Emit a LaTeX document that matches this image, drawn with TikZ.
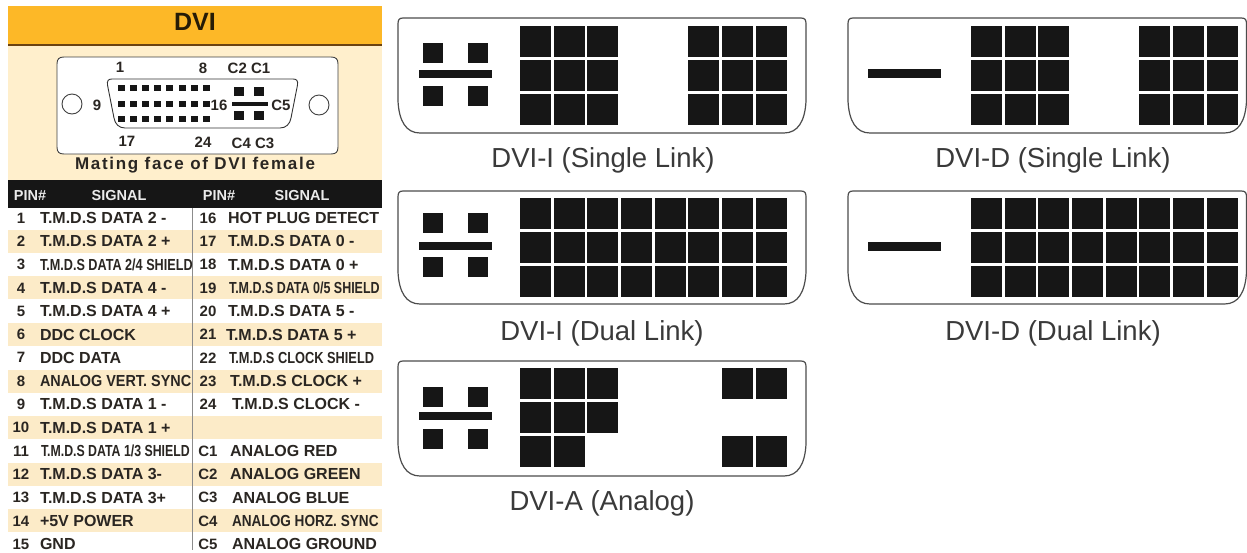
\documentclass[tikz,border=0pt]{standalone}
\usepackage{fontspec}
\usepackage{graphicx}
\setmainfont{Liberation Sans}
\definecolor{hdr}{HTML}{FDB827}
\definecolor{hdrline}{HTML}{6B4210}
\definecolor{cream}{HTML}{FFEFCC}
\definecolor{band}{HTML}{FCEBC8}
\definecolor{ink}{HTML}{2A2622}
\definecolor{blk}{HTML}{161616}
\definecolor{cap}{HTML}{3A3A3A}
\tikzset{
  every node/.style={inner sep=0pt,outer sep=0pt},
  pinbox/.style={fill=blk,draw=none},
  shell/.style={draw=black!70,line width=1.2pt,fill=white},
  pinnum/.style={font=\bfseries\fontsize{15}{15}\selectfont,text=ink,anchor=center},
  signal/.style={font=\bfseries\fontsize{16}{16}\selectfont,text=ink,anchor=west},
  head/.style={font=\bfseries\fontsize{14.5}{15}\selectfont,text=white!92!black,anchor=center},
  facenum/.style={font=\bfseries\fontsize{15}{16}\selectfont,text=ink,anchor=center},
  portlabel/.style={font=\fontsize{27.5}{30}\selectfont,text=cap,anchor=center}
}
% \portshell{left}{right}{top}{bottom}
\newcommand{\portshell}[4]{%
  \draw[shell] (#1+5,#3) -- (#2-5,#3)
    .. controls (#2-1,#3) and (#2,#3+2) .. (#2,#3+6)
    -- (#2,#4-32)
    .. controls (#2-1,#4-12) and (#2-8,#4) .. (#2-22,#4)
    -- (#1+22,#4)
    .. controls (#1+8,#4) and (#1+1,#4-12) .. (#1,#4-32)
    -- (#1,#3+6)
    .. controls (#1,#3+2) and (#1+1,#3) .. (#1+5,#3) -- cycle;}
% \cell{x origin}{y origin}{col 0-7}{row 0-2}
\newcommand{\cell}[4]{\fill[pinbox] (#1+33.65*#3,#2+34*#4) rectangle ++(31,30.5);}
% crossed analog pins
\newcommand{\cross}[3]{%
  \fill[pinbox] (423,#1) rectangle ++(20,20);
  \fill[pinbox] (468,#1) rectangle ++(20,20);
  \fill[pinbox] (423,#2) rectangle ++(20,20);
  \fill[pinbox] (468,#2) rectangle ++(20,20);
  \fill[pinbox] (419,#3) rectangle ++(73,8);}
\begin{document}
\begin{tikzpicture}[x=1pt,y=-1pt]
\useasboundingbox (0,0) rectangle (1247,552);
\fill[white] (0,0) rectangle (1247,552);
% ---- left panel
\fill[hdr] (8,6) rectangle (382,44);
\fill[cream] (8,44) rectangle (382,180);
\fill[hdrline] (8,43.5) rectangle (382,45.5);
\node[font=\bfseries\fontsize{25}{25}\selectfont,text=black!85!hdr] (title) at (195,22) {DVI};
% connector face
\draw[draw=black!75,line width=.9pt,fill=white] (64,57) -- (331,57)
  .. controls (336,57) and (338,59) .. (338,64) -- (338,147)
  .. controls (338,152) and (336,154) .. (331,154) -- (64,154)
  .. controls (59,154) and (57,152) .. (57,147) -- (57,64)
  .. controls (57,59) and (59,57) .. (64,57) -- cycle;
\draw[draw=black!80,line width=.9pt,fill=white] (112,79) -- (293,79)
  .. controls (297,79) and (298,81) .. (297.5,85) -- (291,118)
  .. controls (290,124) and (286,128) .. (280,128) -- (125,128)
  .. controls (119,128) and (115,124) .. (114,118) -- (107.5,85)
  .. controls (107,81) and (108,79) .. (112,79) -- cycle;
\draw[black!75,line width=.9pt,fill=white] (72,104) circle (10);
\draw[black!75,line width=.9pt,fill=white] (319,105) circle (10);
\foreach \i in {0,...,7}{
  \fill[pinbox] (118+12.1*\i,84.5) rectangle ++(7,6);
  \fill[pinbox] (118+12.1*\i,101) rectangle ++(7,6);
  \fill[pinbox] (118+12.1*\i,116) rectangle ++(7,6);
}
\fill[pinbox] (234,87) rectangle ++(9.5,8.5);
\fill[pinbox] (254,87) rectangle ++(9.5,8.5);
\fill[pinbox] (234,111) rectangle ++(9.5,8.5);
\fill[pinbox] (254,111) rectangle ++(9.5,8.5);
\fill[pinbox] (232,102) rectangle (268,106);
\node[facenum] (f1) at (120,67) {1};
\node[facenum] (f8) at (203,68) {8};
\node[facenum] (fc2) at (249,68) {C2 C1};
\node[facenum] (f9) at (97,105) {9};
\node[facenum] (f16) at (219,105) {16};
\node[facenum] (fc5) at (281,105) {C5};
\node[facenum] (f17) at (127,141) {17};
\node[facenum] (f24) at (203,142) {24};
\node[facenum] (fc4) at (253,143) {C4 C3};
\node[font=\bfseries\fontsize{17}{17}\selectfont,text=ink] (mating) at (195,165) {\addfontfeature{LetterSpace=10}Mating face of DVI female};
% table head
\fill[blk] (8,180) rectangle (382,208);
\node[head] (h1) at (30,196) {PIN\#};
\node[head] (h2) at (119,196) {SIGNAL};
\node[head] (h3) at (219,196) {PIN\#};
\node[head] (h4) at (302,196) {SIGNAL};
% bands
\foreach \n in {2,4,6,8,10,12,14}
  \fill[band] (8,{218+(\n-1)*23.3-11.5}) rectangle (382,{218+(\n-1)*23.3+11.5});
\draw[black!45,line width=1pt] (192.5,208) -- (192.5,550);
% table text: row / number / x / signal, left column
\foreach \n/\p/\x/\s in {
  1/1/40/{T.M.D.S DATA 2 -},
  2/2/40/{T.M.D.S DATA 2 +},
  3/3/40/{\scalebox{.79}[1]{T.M.D.S DATA 2/4 SHIELD}},
  4/4/40/{T.M.D.S DATA 4 -},
  5/5/40/{T.M.D.S DATA 4 +},
  6/6/40/{DDC CLOCK},
  7/7/40/{DDC DATA},
  8/8/40/{\scalebox{.90}[1]{ANALOG VERT. SYNC}},
  9/9/40/{T.M.D.S DATA 1 -},
  10/10/40/{T.M.D.S DATA 1 +},
  11/11/41/{\scalebox{.77}[1]{T.M.D.S DATA 1/3 SHIELD}},
  12/12/40/{T.M.D.S DATA 3-},
  13/13/40/{T.M.D.S DATA 3+},
  14/14/40/{+5V POWER},
  15/15/40/{GND}}{
  \node[pinnum] (lp\n) at (21,{218+(\n-1)*23.3}) {\p};
  \node[signal] (ls\n) at (\x,{218+(\n-1)*23.3}) {\s};
}
% right column
\foreach \n/\p/\x/\s in {
  1/16/228/{HOT PLUG DETECT},
  2/17/228/{T.M.D.S DATA 0 -},
  3/18/228/{T.M.D.S DATA 0 +},
  4/19/229/{\scalebox{.78}[1]{T.M.D.S DATA 0/5 SHIELD}},
  5/20/228/{T.M.D.S DATA 5 -},
  6/21/226/{T.M.D.S DATA 5 +},
  7/22/229/{\scalebox{.80}[1]{T.M.D.S CLOCK SHIELD}},
  8/23/230/{T.M.D.S CLOCK +},
  9/24/232/{T.M.D.S CLOCK -},
  11/C1/230/{ANALOG RED},
  12/C2/230/{ANALOG GREEN},
  13/C3/232/{ANALOG BLUE},
  14/C4/232/{\scalebox{.85}[1]{ANALOG HORZ. SYNC}},
  15/C5/232/{ANALOG GROUND}}{
  \node[pinnum] (rp\n) at (208,{218+(\n-1)*23.3}) {\p};
  \node[signal] (rs\n) at (\x,{218+(\n-1)*23.3}) {\s};
}
% ---- DVI-I single
\portshell{398}{806}{18}{133}
\cross{43}{86}{70}
\foreach \r in {0,1,2}{\foreach \c in {0,1,2,5,6,7}{\cell{520}{26}{\c}{\r}}}
\node[portlabel] (isl) at (603,160) {DVI-I (Single Link)};
% ---- DVI-I dual
\portshell{398}{806}{191}{304}
\cross{213}{257}{242}
\foreach \r in {0,1,2}{\foreach \c in {0,...,7}{\cell{520}{198}{\c}{\r}}}
\node[portlabel] (idl) at (602,333) {DVI-I (Dual Link)};
% ---- DVI-A
\portshell{398}{806}{361}{476}
\cross{387}{429}{412}
\foreach \c/\r in {0/0,1/0,2/0,0/1,1/1,2/1,0/2,1/2,6/0,7/0,6/2,7/2}{\cell{520}{368}{\c}{\r}}
\node[portlabel] (a) at (602,503) {DVI-A (Analog)};
% ---- DVI-D single
\portshell{848}{1246.5}{18}{133}
\fill[pinbox] (868,69) rectangle (941,78);
\foreach \r in {0,1,2}{\foreach \c in {0,1,2,5,6,7}{\cell{971}{26}{\c}{\r}}}
\node[portlabel] (dsl) at (1053,160) {DVI-D (Single Link)};
% ---- DVI-D dual
\portshell{848}{1246.5}{191}{304}
\fill[pinbox] (868,242) rectangle (941,251);
\foreach \r in {0,1,2}{\foreach \c in {0,...,7}{\cell{971}{198}{\c}{\r}}}
\node[portlabel] (ddl) at (1053,333) {DVI-D (Dual Link)};
\end{tikzpicture}
\end{document}
